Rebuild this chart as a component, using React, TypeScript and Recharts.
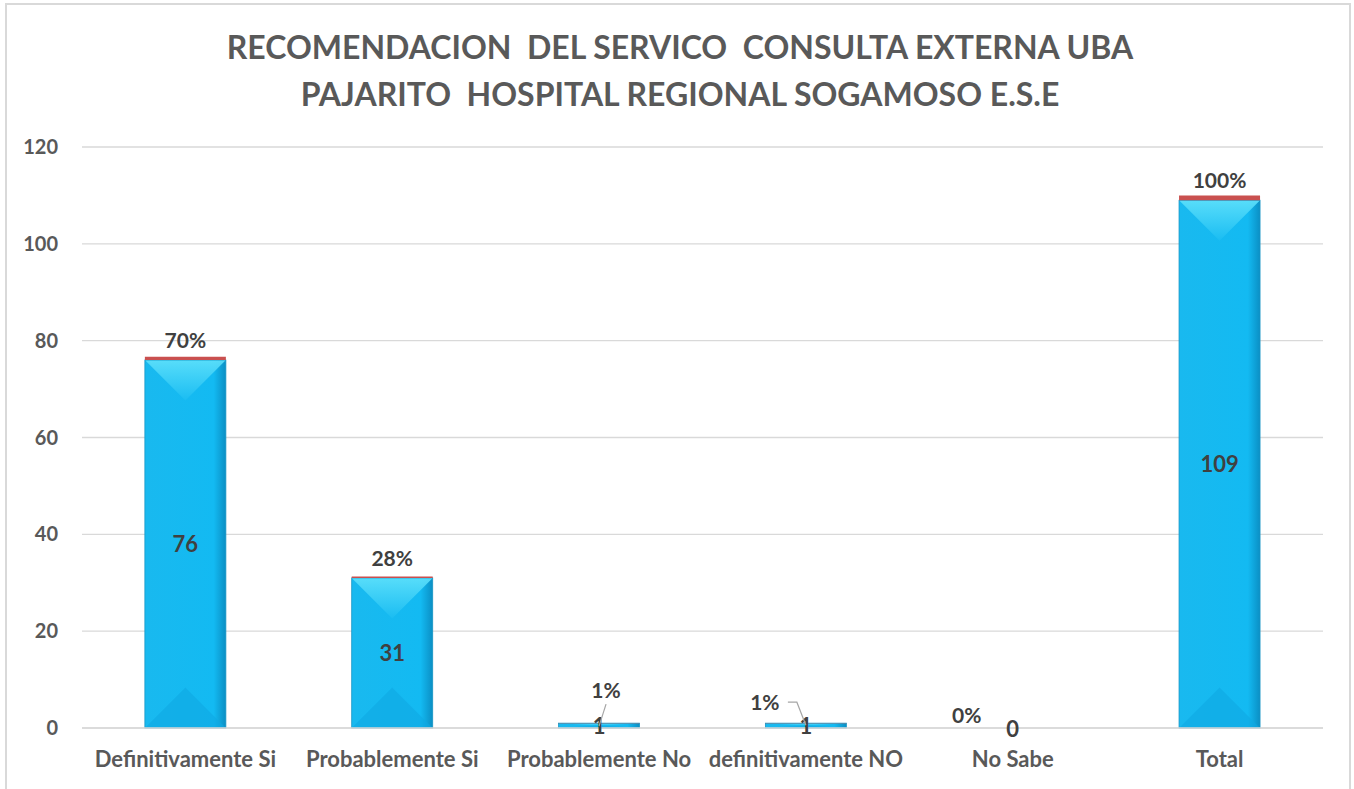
import React from "react";
import { Bar, BarChart, CartesianGrid, LabelList, XAxis, YAxis } from "recharts";

const categories = [
  "Definitivamente Si",
  "Probablemente Si",
  "Probablemente No",
  "definitivamente NO",
  "No Sabe",
  "Total",
];
const counts = [76, 31, 1, 1, 0, 109];
const percents = [0.7, 0.28, 0.01, 0.01, 0, 1];
const yTicks = [0, 20, 40, 60, 80, 100, 120];

const data = categories.map((name, i) => ({
  name,
  count: counts[i],
  pct: percents[i],
}));

const FONT = "Lato, 'Liberation Sans', sans-serif";
const TEXT = "#595959";
const LABEL = "#404040";

// nudges for the small percentage labels (Excel moved them by hand)
const pctNudge: Record<number, { dx: number; dy: number; leader?: "slant" | "elbow" }> = {
  2: { dx: 7, dy: -25, leader: "slant" },
  3: { dx: -41, dy: -13, leader: "elbow" },
  4: { dx: -46, dy: -5 },
};

function BevelBar(props: any) {
  const { x, y, width: w, height: h, index } = props;
  if (!w || h <= 0) return null;
  const d = Math.min(w / 2, h / 2);
  const id = `bev${index}`;
  return (
    <g>
      <defs>
        <linearGradient id={`${id}t`} x1="0" y1="0" x2="0" y2="1">
          <stop offset="0" stopColor="#5fe1fb" />
          <stop offset="1" stopColor="#1bbdf2" />
        </linearGradient>
        <linearGradient id={`${id}s`} x1="0" y1="0" x2="1" y2="0">
          <stop offset="0" stopColor="#19b9ef" />
          <stop offset="0.85" stopColor="#13baf2" />
          <stop offset="1" stopColor="#0b8fc4" />
        </linearGradient>
      </defs>
      <rect x={x} y={y} width={w} height={h} fill={`url(#${id}s)`} />
      <polygon points={`${x},${y} ${x + w},${y} ${x + w / 2},${y + d}`} fill={`url(#${id}t)`} opacity={0.9} />
      <polygon
        points={`${x},${y + h} ${x + w},${y + h} ${x + w / 2},${y + h - d}`}
        fill="#0fa9e2"
        opacity={0.6}
      />
      <rect x={x} y={y} width={w} height={h} fill="none" stroke="#1796c6" strokeWidth={0.8} />
    </g>
  );
}

// drawn from the count bar so that a zero share still gets its label
function PctLabel(props: any) {
  const { x, y, width, index, value } = props;
  const cx = x + width / 2;
  const n = pctNudge[index];
  const text = `${Math.round(value * 100)}%`;
  if (!n) {
    return (
      <text x={cx} y={y - 12} textAnchor="middle" fontFamily={FONT} fontWeight="bold" fontSize={21} fill={LABEL}>
        {text}
      </text>
    );
  }
  const tx = cx + n.dx;
  const ty = y + n.dy;
  return (
    <g>
      {n.leader === "slant" && <line x1={cx} y1={y + 3} x2={tx} y2={ty + 6} stroke="#a6a6a6" strokeWidth={1.2} />}
      {n.leader === "elbow" && (
        <polyline
          points={`${tx + 23},${ty - 8} ${tx + 32},${ty - 8} ${cx},${y + 2}`}
          fill="none"
          stroke="#a6a6a6"
          strokeWidth={1.2}
        />
      )}
      <text x={tx} y={ty} textAnchor="middle" fontFamily={FONT} fontWeight="bold" fontSize={21} fill={LABEL}>
        {text}
      </text>
    </g>
  );
}

function CountLabel(props: any) {
  const { x, y, width, height, value } = props;
  return (
    <text
      x={x + width / 2}
      y={y + height / 2}
      dy={value === 0 ? 9 : 8}
      textAnchor="middle"
      fontFamily={FONT}
      fontWeight="bold"
      fontSize={22}
      fill={LABEL}
    >
      {value}
    </text>
  );
}

export default function App() {
  return (
    <div style={{ position: "absolute", left: 0, top: 0, width: 1354, height: 789, background: "#fff" }}>
      <div
        style={{
          position: "absolute",
          left: 5,
          top: 3,
          width: 1346,
          height: 800,
          border: "2px solid #d9d9d9",
          boxSizing: "border-box",
        }}
      />
      <div
        style={{
          position: "absolute",
          left: 0,
          top: 23,
          width: 1360,
          textAlign: "center",
          fontFamily: FONT,
          fontWeight: "bold",
          fontSize: 32,
          lineHeight: "47px",
          color: TEXT,
          whiteSpace: "pre",
        }}
      >
        {"RECOMENDACION  DEL SERVICO  CONSULTA EXTERNA UBA\nPAJARITO  HOSPITAL REGIONAL SOGAMOSO E.S.E"}
      </div>
      <BarChart
        width={1354}
        height={789}
        data={data}
        barCategoryGap="30.4%"
        margin={{ top: 147, right: 31, bottom: 0, left: 0 }}
        style={{ position: "absolute", left: 0, top: 0 }}
      >
        <CartesianGrid vertical={false} stroke="#d9d9d9" strokeWidth={1.3} />
        <XAxis
          dataKey="name"
          height={61}
          axisLine={{ stroke: "#d9d9d9", strokeWidth: 1.3 }}
          tickLine={false}
          tickSize={0}
          tickMargin={23}
          interval={0}
          tick={{ fontFamily: FONT, fontWeight: "bold", fontSize: 22, fill: TEXT }}
        />
        <YAxis
          width={82}
          domain={[0, 120]}
          ticks={yTicks}
          axisLine={false}
          tickLine={false}
          tickSize={0}
          tickMargin={24}
          tick={{ fontFamily: FONT, fontWeight: "bold", fontSize: 20, fill: TEXT }}
        />
        <Bar dataKey="count" stackId="a" shape={BevelBar} isAnimationActive={false}>
          <LabelList dataKey="count" content={CountLabel} />
          <LabelList dataKey="pct" content={PctLabel} />
        </Bar>
        <Bar dataKey="pct" stackId="a" fill="#c9504f" isAnimationActive={false} />
      </BarChart>
    </div>
  );
}
